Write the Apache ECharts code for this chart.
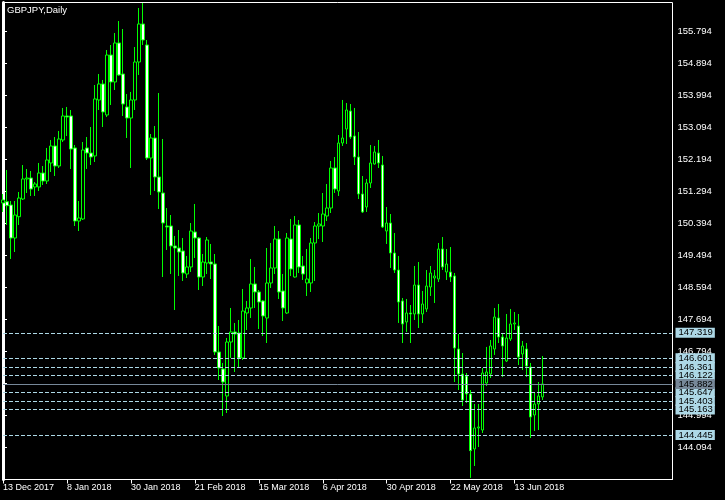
<!DOCTYPE html>
<html>
<head>
<meta charset="utf-8">
<script src="https://cdn.jsdelivr.net/npm/echarts@6/dist/echarts.min.js"></script>
<style>
html,body{margin:0;padding:0;background:#000;}
#chart{width:725px;height:500px;}
</style>
</head>
<body>
<div id="chart"></div>
<script>
const title = 'GBPJPY,Daily';
const dates = ['13 Dec 2017','14 Dec 2017','15 Dec 2017','18 Dec 2017','19 Dec 2017','20 Dec 2017','21 Dec 2017','22 Dec 2017','26 Dec 2017','27 Dec 2017','28 Dec 2017','29 Dec 2017','2 Jan 2018','3 Jan 2018','4 Jan 2018','5 Jan 2018','8 Jan 2018','9 Jan 2018','10 Jan 2018','11 Jan 2018','12 Jan 2018','15 Jan 2018','16 Jan 2018','17 Jan 2018','18 Jan 2018','19 Jan 2018','22 Jan 2018','23 Jan 2018','24 Jan 2018','25 Jan 2018','26 Jan 2018','29 Jan 2018','30 Jan 2018','31 Jan 2018','1 Feb 2018','2 Feb 2018','5 Feb 2018','6 Feb 2018','7 Feb 2018','8 Feb 2018','9 Feb 2018','12 Feb 2018','13 Feb 2018','14 Feb 2018','15 Feb 2018','16 Feb 2018','19 Feb 2018','20 Feb 2018','21 Feb 2018','22 Feb 2018','23 Feb 2018','26 Feb 2018','27 Feb 2018','28 Feb 2018','1 Mar 2018','2 Mar 2018','5 Mar 2018','6 Mar 2018','7 Mar 2018','8 Mar 2018','9 Mar 2018','12 Mar 2018','13 Mar 2018','14 Mar 2018','15 Mar 2018','16 Mar 2018','19 Mar 2018','20 Mar 2018','21 Mar 2018','22 Mar 2018','23 Mar 2018','26 Mar 2018','27 Mar 2018','28 Mar 2018','29 Mar 2018','30 Mar 2018','2 Apr 2018','3 Apr 2018','4 Apr 2018','5 Apr 2018','6 Apr 2018','9 Apr 2018','10 Apr 2018','11 Apr 2018','12 Apr 2018','13 Apr 2018','16 Apr 2018','17 Apr 2018','18 Apr 2018','19 Apr 2018','20 Apr 2018','23 Apr 2018','24 Apr 2018','25 Apr 2018','26 Apr 2018','27 Apr 2018','30 Apr 2018','1 May 2018','2 May 2018','3 May 2018','4 May 2018','7 May 2018','8 May 2018','9 May 2018','10 May 2018','11 May 2018','14 May 2018','15 May 2018','16 May 2018','17 May 2018','18 May 2018','21 May 2018','22 May 2018','23 May 2018','24 May 2018','25 May 2018','28 May 2018','29 May 2018','30 May 2018','31 May 2018','1 Jun 2018','4 Jun 2018','5 Jun 2018','6 Jun 2018','7 Jun 2018','8 Jun 2018','11 Jun 2018','12 Jun 2018','13 Jun 2018','14 Jun 2018','15 Jun 2018','18 Jun 2018','19 Jun 2018','20 Jun 2018','21 Jun 2018','22 Jun 2018'];

const open = [150.971,151.007,150.914,149.986,150.585,151.083,151.646,151.674,151.421,151.421,
151.814,151.589,152.096,152.574,152.011,152.743,153.418,153.418,152.518,150.464,
150.521,152.518,152.377,152.293,153.868,154.318,153.446,155.133,154.374,155.471,
154.599,153.671,153.361,153.868,154.936,156.005,155.414,152.236,152.799,151.702,
151.252,150.324,150.324,149.761,149.705,149.621,148.974,149.171,150.155,149.986,
148.889,149.283,149.311,149.255,146.780,146.302,145.543,147.061,147.343,147.315,
146.611,147.877,148.018,148.693,148.468,148.215,147.736,148.721,149.143,149.958,
148.496,147.877,149.958,148.889,150.352,149.199,148.721,148.721,149.846,150.324,
150.324,150.605,150.830,151.955,151.308,152.658,153.052,153.558,152.855,152.264,
151.224,150.858,151.533,152.068,152.377,152.039,150.183,150.408,149.564,149.086,
148.215,147.624,147.877,147.849,148.664,147.849,147.990,148.608,148.861,148.833,
149.677,149.030,149.030,148.918,146.864,146.161,146.105,145.599,144.052,144.643,
144.586,145.908,146.161,146.864,147.736,147.202,146.527,147.146,147.568,147.511,
146.724,146.864,146.358,145.008,145.318,145.515];

const high = [151.224,151.899,151.027,151.027,151.280,152.039,151.927,151.871,151.561,152.096,
152.011,152.518,152.743,152.827,152.996,153.643,153.671,153.586,152.602,151.027,
152.686,152.827,153.108,154.289,154.599,154.430,155.274,155.414,155.752,156.089,
155.864,154.036,154.093,155.358,156.455,156.596,155.555,152.911,153.136,154.064,
152.771,150.830,150.633,150.043,150.211,149.986,149.480,150.408,150.943,150.014,
149.536,150.014,149.818,149.536,147.511,146.471,147.174,148.018,147.596,147.680,
148.552,148.215,149.396,149.171,148.524,148.243,149.705,149.846,150.324,150.183,
148.974,150.127,150.521,150.605,150.492,149.480,149.677,149.986,150.436,150.689,
151.252,151.505,152.152,152.264,152.883,153.868,153.783,153.755,153.643,152.968,
151.730,151.646,152.602,152.574,152.743,152.293,150.858,150.661,150.127,149.480,
148.299,148.271,148.102,149.199,149.311,148.496,149.086,149.199,149.086,149.846,
150.014,149.677,149.733,149.002,147.286,146.752,146.189,145.711,145.318,145.318,
146.330,146.921,147.118,148.018,148.130,147.315,147.849,147.990,147.905,147.849,
147.090,147.033,146.471,145.627,145.936,146.667];

const low = [150.717,150.352,149.396,149.592,150.352,151.055,151.252,151.168,151.168,151.308,
151.477,151.505,151.843,151.730,151.955,152.686,152.855,151.927,150.324,150.183,
150.493,151.927,152.039,152.124,153.586,153.108,153.389,153.727,154.149,154.550,
153.418,152.799,151.955,153.586,154.571,155.414,152.180,151.196,151.308,150.802,
148.889,149.649,148.974,147.961,148.918,148.777,148.861,149.030,149.424,148.524,
148.636,148.974,148.833,146.696,145.993,144.980,145.064,146.611,146.218,146.358,
146.555,147.399,147.736,148.018,147.427,147.230,147.033,148.580,148.974,148.271,
147.652,147.850,148.918,148.870,149.002,148.805,148.355,148.468,148.777,149.958,
149.874,150.464,150.689,151.252,151.168,152.574,152.630,152.771,152.039,151.083,
150.689,150.718,151.393,152.050,151.955,150.268,149.818,149.143,149.002,147.596,
147.033,147.343,147.033,147.680,147.455,147.596,147.905,148.355,148.158,148.749,
149.086,148.805,148.749,145.936,145.711,145.261,145.346,143.240,143.574,144.108,
144.502,145.824,146.049,146.696,147.033,146.077,146.499,147.090,147.399,146.414,
146.274,146.077,144.361,144.558,144.586,145.430];

const close = [151.055,150.895,149.986,150.633,151.111,151.646,151.674,151.364,151.505,151.814,
151.589,152.180,152.574,152.011,152.771,153.418,153.389,152.489,150.464,150.549,
152.461,152.377,152.264,153.896,154.318,153.530,155.133,154.374,155.471,154.571,
153.755,153.361,153.868,154.936,156.005,155.555,152.236,152.799,151.702,151.280,
150.408,150.296,149.761,149.705,149.592,149.002,149.171,150.183,149.986,148.889,
149.311,149.930,149.255,146.780,146.330,145.936,147.061,147.343,147.286,146.611,
147.933,148.018,148.693,148.468,148.186,147.793,148.721,149.143,149.958,148.468,
148.018,149.986,149.114,150.352,149.171,148.974,148.833,149.846,150.324,150.380,
150.661,150.830,151.955,151.364,152.658,152.799,153.586,152.827,152.264,151.224,
150.718,151.533,152.096,152.405,152.096,150.296,150.408,149.564,149.086,148.186,
147.568,147.877,147.849,148.664,147.849,148.130,148.636,149.002,148.918,149.677,
149.171,149.255,148.889,146.892,146.161,145.430,145.599,144.005,144.643,144.671,
146.189,146.218,146.949,147.764,147.202,146.949,147.174,147.568,147.596,146.639,
146.949,146.386,144.952,145.318,145.543,145.882];

const priceTicks = [144.094,144.994,145.894,146.794,147.694,148.594,149.494,150.394,151.294,152.194,153.094,153.994,154.894,155.794];
const dateTickIdx = [0,16,32,48,64,80,96,112,128];
const levels = [147.319,146.601,146.361,146.122,145.647,145.403,145.163,144.445];
const bid = 145.882;

const FONT = 'Liberation Sans, Arial, sans-serif';
const candles = dates.map((d, i) => [i, open[i], close[i], low[i], high[i]]);

const levelLabel = (bg) => ({
  show: true, position: 'end', distance: 3,
  formatter: p => Number(p.value).toFixed(3),
  color: '#000', backgroundColor: bg, fontSize: 9.5, fontFamily: FONT,
  padding: [1, 2, 0, 3], lineHeight: 9
});

const markData = levels.map(v => ({
  yAxis: v,
  lineStyle: { color: '#add8e6', type: [4, 2], width: 1 },
  label: levelLabel('#add8e6')
}));
markData.push({
  yAxis: bid,
  lineStyle: { color: '#778899', type: 'solid', width: 1 },
  label: levelLabel('#778899')
});

const chart = echarts.init(document.getElementById('chart'), null, { renderer: 'canvas' });
chart.setOption({
  backgroundColor: '#000',
  animation: false,
  title: {
    text: title, left: 7, top: 5, padding: 0,
    textStyle: { color: '#fff', fontSize: 9.5, fontWeight: 'normal', fontFamily: FONT }
  },
  grid: {
    left: 2.5, right: 52.5, top: 2.5, bottom: 20.5,
    show: true, borderColor: '#fff', borderWidth: 1, backgroundColor: 'transparent'
  },
  xAxis: {
    type: 'value', min: 0, max: 167.5,
    axisLine: { show: true, lineStyle: { color: '#fff', width: 1 } },
    axisTick: { show: true, length: 4, lineStyle: { color: '#fff' }, customValues: dateTickIdx },
    axisLabel: {
      show: true, customValues: dateTickIdx, formatter: v => dates[v],
      align: 'left', margin: 4, color: '#fff', fontSize: 9, fontFamily: FONT
    },
    splitLine: { show: false }
  },
  yAxis: {
    type: 'value', position: 'right', min: 143.194, max: 156.6096,
    axisLine: { show: true, lineStyle: { color: '#fff', width: 3 } },
    axisTick: { show: true, length: 4, lineStyle: { color: '#fff' }, customValues: priceTicks },
    axisLabel: {
      show: true, customValues: priceTicks, formatter: v => v.toFixed(3),
      margin: 5, color: '#fff', fontSize: 9.5, fontFamily: FONT
    },
    splitLine: { show: false }
  },
  series: [{
    type: 'candlestick',
    data: candles,
    encode: { x: 0, y: [1, 2, 3, 4] },
    barWidth: 3,
    itemStyle: {
      color: '#000000', color0: '#ffffff',
      borderColor: '#00ff00', borderColor0: '#00ff00', borderColorDoji: '#00ff00',
      borderWidth: 1
    },
    markLine: {
      symbol: 'none', silent: true, animation: false, precision: 3,
      data: markData
    }
  }]
});
</script>
</body>
</html>
